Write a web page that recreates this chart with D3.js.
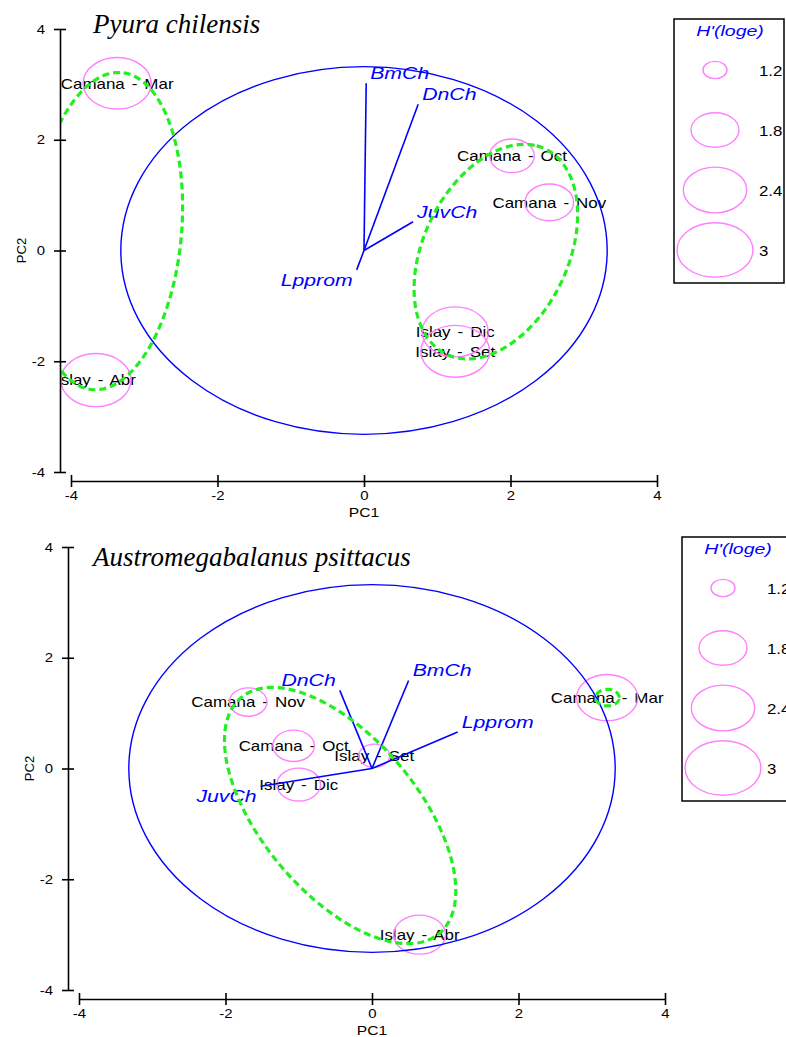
<!DOCTYPE html>
<html>
<head>
<meta charset="utf-8">
<script src="https://cdn.jsdelivr.net/npm/d3@7"></script>
<style>
  body { margin: 0; background: #fff; }
  svg { display: block; }
</style>
</head>
<body>
<svg id="chart" width="786" height="1037"></svg>
<script>
// ---- data ----
const axisTicks = [-4, -2, 0, 2, 4];
const legendValues = [1.2, 1.8, 2.4, 3];

// Pyura chilensis
const pyuraSamples = ["Camana - Mar", "Camana - Oct", "Camana - Nov", "Islay - Dic", "Islay - Set", "Islay - Abr"];
const pyuraPC1 = [-3.37, 2.02, 2.53, 1.245, 1.245, -3.66];
const pyuraPC2 = [3.02, 1.71, 0.87, -1.47, -1.82, -2.34];
const pyuraH = [2.61, 1.69, 1.82, 2.52, 2.64, 2.71];
const pyuraVars = ["BmCh", "DnCh", "JuvCh", "Lpprom"];
const pyuraVarPC1 = [0.03, 0.74, 0.67, -0.10];
const pyuraVarPC2 = [3.02, 2.64, 0.52, -0.35];
// group ellipses: centre, semi axes, angle (deg)
const pyuraGroupCx = [-3.51, 1.80];
const pyuraGroupCy = [0.35, -0.02];
const pyuraGroupA = [2.87, 1.99];
const pyuraGroupB = [1.02, 1.02];
const pyuraGroupAngle = [86.4, 74.6];

// Austromegabalanus psittacus
const balanSamples = ["Camana - Mar", "Camana - Oct", "Camana - Nov", "Islay - Dic", "Islay - Set", "Islay - Abr"];
const balanPC1 = [3.21, -1.07, -1.69, -1.0, 0.03, 0.65];
const balanPC2 = [1.28, 0.41, 1.20, -0.29, 0.23, -3.0];
const balanH = [2.30, 1.60, 1.49, 1.66, 1.33, 1.93];
const balanVars = ["BmCh", "DnCh", "JuvCh", "Lpprom"];
const balanVarPC1 = [0.50, -0.44, -1.52, 1.17];
const balanVarPC2 = [1.59, 1.41, -0.32, 0.66];
const balanGroupCx = [-0.435, 3.215];
const balanGroupCy = [-0.85, 1.28];
const balanGroupA = [2.55, 0.16];
const balanGroupB = [1.16, 0.15];
const balanGroupAngle = [-61.85, 0];

const circleRadius = 3.32; // correlation circle

// ---- helpers ----
const svg = d3.select("#chart");
const BLUE = "#0000ff";
const PINK = "#ff80ff";
const GREEN = "#22ee22";

// radius of a bubble in PC units
const bubbleR = v => 0.366 * Math.sqrt(v - 1);

function addText(sel, x, y, str, sx, anchor) {
    return sel.append("text")
        .attr("transform", `translate(${x},${y}) scale(${sx},1)`)
        .attr("text-anchor", anchor)
        .attr("dy", "0.35em")
        .text(str);
}

function ellipsePoints(cx, cy, a, b, angle) {
    const th = angle * Math.PI / 180;
    return d3.range(0, 144).map(i => {
        const t = i / 144 * 2 * Math.PI;
        return [
            cx + a * Math.cos(th) * Math.cos(t) - b * Math.sin(th) * Math.sin(t),
            cy + a * Math.sin(th) * Math.cos(t) + b * Math.cos(th) * Math.sin(t)
        ];
    });
}

function drawPanel(p) {
    const g = svg.append("g").attr("transform", `translate(${p.dx},${p.dy})`);
    const x = d3.scaleLinear().domain([-4, 4]).range([71, 657]);
    const y = d3.scaleLinear().domain([-4, 4]).range([472, 29]);

    g.append("clipPath").attr("id", "clip" + p.id)
        .append("rect").attr("x", 60).attr("y", 0).attr("width", 612).attr("height", 478);
    const plot = g.append("g").attr("clip-path", `url(#clip${p.id})`);

    const samples = p.samples.map((s, i) => ({ name: s, pc1: p.pc1[i], pc2: p.pc2[i], h: p.h[i] }));
    const vars = p.vars.map((s, i) => ({ name: s, pc1: p.vpc1[i], pc2: p.vpc2[i] }));

    // sample labels (under the lines)
    const lab = plot.append("g")
        .style("font-family", "'Liberation Sans', Arial, sans-serif")
        .style("font-size", "15px")
        .style("word-spacing", "2px")
        .attr("fill", "#000");
    samples.forEach(d => addText(lab, x(d.pc1), y(d.pc2), d.name, 1.13, "middle"));

    // bubbles
    plot.append("g").selectAll("ellipse")
        .data(samples)
        .enter().append("ellipse")
        .attr("cx", d => x(d.pc1))
        .attr("cy", d => y(d.pc2))
        .attr("rx", d => x(bubbleR(d.h)) - x(0))
        .attr("ry", d => y(0) - y(bubbleR(d.h)))
        .attr("fill", "none")
        .attr("stroke", PINK)
        .attr("stroke-width", 1.4);

    // correlation circle
    plot.append("ellipse")
        .attr("cx", x(0)).attr("cy", y(0))
        .attr("rx", x(circleRadius) - x(0))
        .attr("ry", y(0) - y(circleRadius))
        .attr("fill", "none")
        .attr("stroke", BLUE)
        .attr("stroke-width", 1.4);

    // vectors
    plot.append("g").selectAll("line")
        .data(vars)
        .enter().append("line")
        .attr("x1", x(0)).attr("y1", y(0))
        .attr("x2", d => x(d.pc1)).attr("y2", d => y(d.pc2))
        .attr("stroke", BLUE)
        .attr("stroke-width", 1.6);

    const vlab = plot.append("g")
        .style("font-family", "'Liberation Sans', Arial, sans-serif")
        .style("font-size", "17px")
        .style("font-style", "italic")
        .attr("fill", BLUE);
    vars.forEach(d => {
        const right = d.pc1 >= 0;
        const up = d.pc2 >= 0;
        addText(vlab, x(d.pc1) + (right ? 4 : -4), y(d.pc2) + (up ? -10 : 10), d.name, 1.25, right ? "start" : "end");
    });

    // group ellipses
    const line = d3.line().x(d => x(d[0])).y(d => y(d[1])).curve(d3.curveLinearClosed);
    p.gcx.forEach((cx, i) => {
        plot.append("path")
            .attr("d", line(ellipsePoints(cx, p.gcy[i], p.ga[i], p.gb[i], p.gang[i])))
            .attr("fill", "none")
            .attr("stroke", GREEN)
            .attr("stroke-width", 3.2)
            .attr("stroke-dasharray", "7,4");
    });

    // axes
    const yAxis = g.append("g")
        .attr("transform", "translate(60,0)")
        .call(d3.axisLeft(y).tickValues(axisTicks).tickFormat(d => String(d))
            .tickSize(6).tickSizeOuter(0).tickPadding(7));
    yAxis.selectAll(".tick line").attr("x1", 6);
    yAxis.selectAll(".tick text").attr("transform", "scale(1.15,1)");

    const xAxis = g.append("g")
        .attr("transform", "translate(0,481)")
        .call(d3.axisBottom(x).tickValues(axisTicks).tickFormat(d => String(d))
            .tickSize(6).tickSizeOuter(0).tickPadding(4));
    xAxis.selectAll(".tick line").attr("y1", -6);
    xAxis.selectAll(".tick text").attr("transform", "scale(1.15,1)");

    [yAxis, xAxis].forEach(a => {
        a.attr("font-family", "'Liberation Sans', Arial, sans-serif").attr("font-size", 13);
        a.select(".domain").attr("stroke-width", 1.6);
        a.selectAll(".tick line").attr("stroke-width", 1.6);
    });

    const axLab = g.append("g")
        .style("font-family", "'Liberation Sans', Arial, sans-serif")
        .style("font-size", "13px");
    addText(axLab, x(0), 512, "PC1", 1.2, "middle");
    axLab.append("text")
        .attr("transform", `translate(21,${y(0)}) rotate(-90)`)
        .attr("text-anchor", "middle")
        .attr("dy", "0.35em")
        .text("PC2");

    // legend
    const leg = g.append("g");
    leg.append("rect")
        .attr("x", 674).attr("y", 19).attr("width", 110).attr("height", 264)
        .attr("fill", "none").attr("stroke", "#000").attr("stroke-width", 1.5);
    const legT = leg.append("g")
        .style("font-family", "'Liberation Sans', Arial, sans-serif")
        .style("font-size", "15px")
        .style("font-style", "italic")
        .attr("fill", BLUE);
    addText(legT, 730, 31, "H'(loge)", 1.3, "middle");
    const legY = d3.scalePoint().domain(legendValues).range([70, 250]);
    leg.selectAll("ellipse")
        .data(legendValues)
        .enter().append("ellipse")
        .attr("cx", 715)
        .attr("cy", d => legY(d))
        .attr("rx", d => x(bubbleR(d)) - x(0))
        .attr("ry", d => (x(bubbleR(d)) - x(0)) * 0.72)
        .attr("fill", "none")
        .attr("stroke", PINK)
        .attr("stroke-width", 1.4);
    const legL = leg.append("g")
        .style("font-family", "'Liberation Sans', Arial, sans-serif")
        .style("font-size", "14px")
        .attr("fill", "#000");
    legendValues.forEach(v => addText(legL, 759, legY(v) + 1.5, String(v), 1.2, "start"));

    // title
    svg.append("text")
        .attr("x", p.titleX).attr("y", p.titleY)
        .style("font-family", "'Liberation Serif', 'Times New Roman', serif")
        .style("font-style", "italic")
        .style("font-size", "27px")
        .text(p.title);
}

drawPanel({
    id: 1, dx: 0, dy: 0, title: "Pyura chilensis", titleX: 93, titleY: 33,
    samples: pyuraSamples, pc1: pyuraPC1, pc2: pyuraPC2, h: pyuraH,
    vars: pyuraVars, vpc1: pyuraVarPC1, vpc2: pyuraVarPC2,
    gcx: pyuraGroupCx, gcy: pyuraGroupCy, ga: pyuraGroupA, gb: pyuraGroupB, gang: pyuraGroupAngle
});
drawPanel({
    id: 2, dx: 8, dy: 518, title: "Austromegabalanus psittacus", titleX: 93, titleY: 566,
    samples: balanSamples, pc1: balanPC1, pc2: balanPC2, h: balanH,
    vars: balanVars, vpc1: balanVarPC1, vpc2: balanVarPC2,
    gcx: balanGroupCx, gcy: balanGroupCy, ga: balanGroupA, gb: balanGroupB, gang: balanGroupAngle
});
</script>
</body>
</html>
